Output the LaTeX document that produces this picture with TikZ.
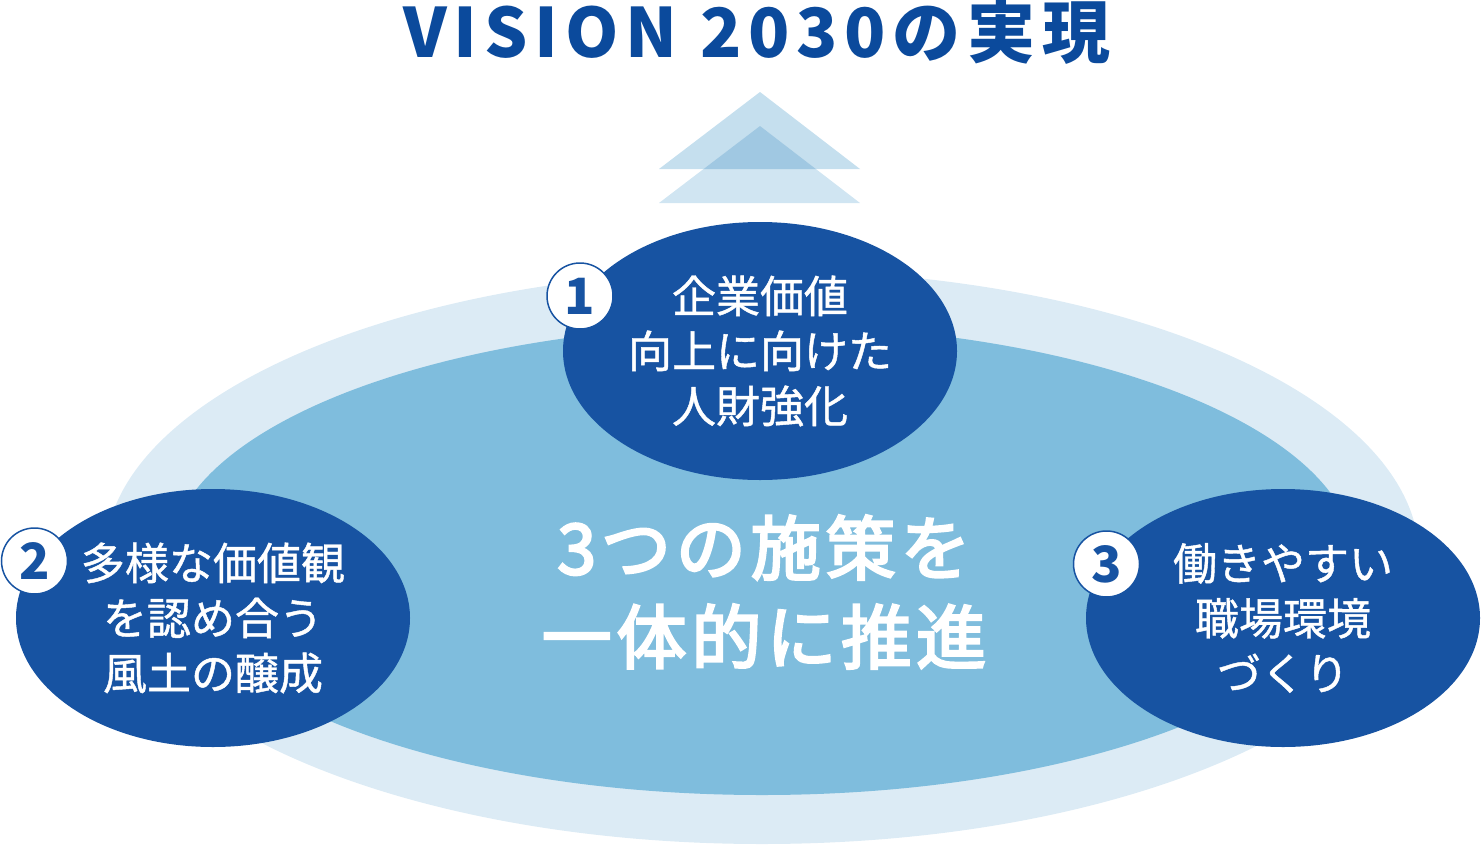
\documentclass[tikz,border=0pt]{standalone}
\usepackage{fontspec}
\setmainfont{Noto Sans CJK JP}
\newfontfamily\titlefont{Noto Sans CJK JP}[LetterSpace=10]
\newfontfamily\policyfont{Noto Sans CJK JP}[FakeBold=1]
\newfontfamily\centerfont{Noto Sans CJK JP}[FakeBold=3.5,LetterSpace=7]
\usetikzlibrary{shapes.geometric}
\definecolor{darkblue}{HTML}{1753A2}
\definecolor{titleblue}{HTML}{0B4A9C}
\definecolor{lightring}{HTML}{DCEBF5}
\definecolor{midring}{HTML}{7FBDDD}
\definecolor{triA}{HTML}{C5DFEE}
\definecolor{triB}{HTML}{D0E5F2}
\definecolor{triC}{HTML}{A0C8E2}
\tikzset{
  policy/.style={ellipse, fill=darkblue, text=white, minimum width=394pt, minimum height=258pt,
    inner sep=0pt, align=center, font=\policyfont\fontsize{44}{55}\selectfont},
  numcircle/.style={circle, fill=white, draw=darkblue, line width=1.5pt, minimum size=66pt,
    inner sep=0pt, text=darkblue, font=\fontsize{50}{50}\selectfont\bfseries},
}
\begin{document}
\begin{tikzpicture}[x=1pt,y=-1pt]
\useasboundingbox (0,0) rectangle (1482,846);
% background rings
\fill[lightring] (762,557) ellipse [x radius=657pt, y radius=287pt];
\fill[midring] (762,560) ellipse [x radius=593pt, y radius=235pt];
% arrow triangles
\fill[triA] (760,92) -- (659,169) -- (860,169) -- cycle;
\fill[triB] (760,126) -- (659,203) -- (860,203) -- cycle;
\begin{scope}
  \clip (760,92) -- (659,169) -- (860,169) -- cycle;
  \fill[triC] (760,126) -- (659,203) -- (860,203) -- cycle;
\end{scope}
% title
\node[anchor=base, text=titleblue, font=\titlefont\fontsize{68}{68}\selectfont\bfseries, inner sep=0pt] (title) at (757,57) {VISION 2030の実現};
% centre text
\node[text=white, align=center, inner sep=0pt, font=\centerfont\fontsize{70}{89}\selectfont] (center) at (764,592) {3つの施策を\\一体的に推進};
% policies
\node[policy] (p1) at (760,351) {企業価値\\向上に向けた\\人財強化};
\node[policy] (p2) at (213,618) {多様な価値観\\を認め合う\\風土の醸成};
\node[policy] (p3) at (1283,618) {働きやすい\\職場環境\\づくり};
% numbers
\node[numcircle] (n1) at (580,296) {1};
\node[numcircle] (n2) at (34.5,561) {2};
\node[numcircle] (n3) at (1106.5,564) {3};
\end{tikzpicture}
\end{document}
